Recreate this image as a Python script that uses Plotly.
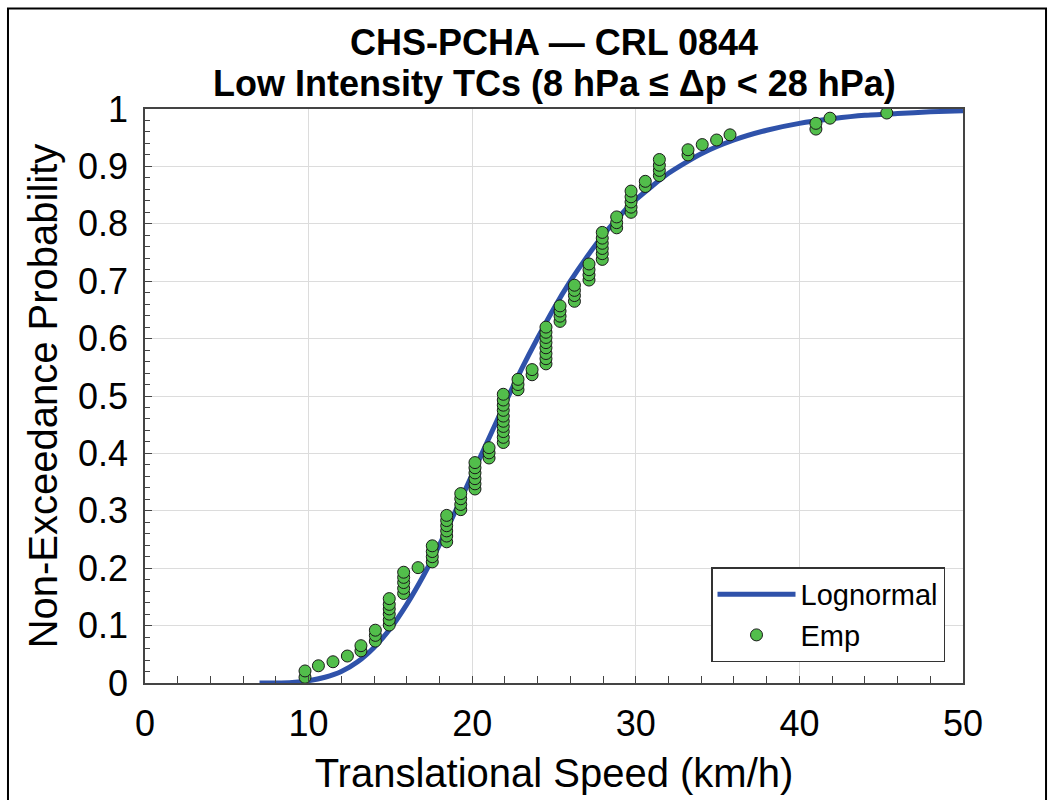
import plotly.graph_objects as go

# Empirical points: column speeds (km/h) and probabilities read per column
emp_speed_cols = [9.78, 10.60, 11.49, 12.37, 13.20, 14.08, 14.93, 15.81, 16.69, 17.56,
                  18.44, 19.30, 20.17, 21.03, 21.90, 22.80, 23.66, 24.51, 25.37, 26.25,
                  27.14, 27.95, 28.83, 29.71, 30.58, 31.44, 33.19, 34.06, 34.94, 35.76,
                  41.01, 41.87, 45.34]
emp_prob_cols = [
    [0.010, 0.021],
    [0.030],
    [0.037],
    [0.047],
    [0.056, 0.065],
    [0.073, 0.083, 0.092],
    [0.101, 0.110, 0.120, 0.129, 0.137, 0.147],
    [0.156, 0.165, 0.175, 0.184, 0.193],
    [0.201],
    [0.211, 0.220, 0.229, 0.239],
    [0.246, 0.256, 0.265, 0.274, 0.283, 0.292],
    [0.302, 0.311, 0.321, 0.330],
    [0.338, 0.347, 0.356, 0.366, 0.375, 0.384],
    [0.392, 0.401, 0.410],
    [0.419, 0.428, 0.438, 0.447, 0.456, 0.465, 0.475, 0.484, 0.493, 0.503],
    [0.511, 0.520, 0.529],
    [0.537, 0.546],
    [0.556, 0.565, 0.574, 0.584, 0.593, 0.602, 0.611, 0.620],
    [0.630, 0.639, 0.648, 0.657],
    [0.665, 0.675, 0.684, 0.693],
    [0.702, 0.711, 0.720, 0.730],
    [0.738, 0.748, 0.757, 0.766, 0.775, 0.785],
    [0.793, 0.802, 0.812],
    [0.820, 0.829, 0.838, 0.847, 0.857],
    [0.865, 0.874],
    [0.884, 0.893, 0.902, 0.912],
    [0.920, 0.929],
    [0.938],
    [0.946],
    [0.955],
    [0.965, 0.975],
    [0.984],
    [0.993],
]

# Lognormal fitted curve
logn_speed = [7, 8, 9, 10, 11, 12, 13, 14, 15, 16, 17, 18, 19, 20, 21, 22, 23, 24, 25,
              26, 27, 28, 29, 30, 32, 34, 36, 38, 40, 42, 44, 46, 48, 50]
logn_prob = [0.000, 0.000, 0.001, 0.004, 0.010, 0.020, 0.037, 0.062, 0.095, 0.137,
             0.186, 0.241, 0.301, 0.363, 0.425, 0.487, 0.546, 0.601, 0.653, 0.700,
             0.742, 0.780, 0.813, 0.842, 0.888, 0.922, 0.946, 0.963, 0.975, 0.983,
             0.989, 0.992, 0.995, 0.997]

x_ticks = [0, 10, 20, 30, 40, 50]
y_ticks = [0, 0.1, 0.2, 0.3, 0.4, 0.5, 0.6, 0.7, 0.8, 0.9, 1]
y_tick_labels = ["0", "0.1", "0.2", "0.3", "0.4", "0.5", "0.6", "0.7", "0.8", "0.9", "1"]

title_line1 = "CHS-PCHA — CRL 0844"
title_line2 = "Low Intensity TCs (8 hPa ≤ Δp &lt; 28 hPa)"

emp_x, emp_y = [], []
for s, col in zip(emp_speed_cols, emp_prob_cols):
    for p in col:
        emp_x.append(s)
        emp_y.append(p)

FONT = "Liberation Sans, Arial, sans-serif"

fig = go.Figure()
fig.add_trace(go.Scatter(
    x=logn_speed, y=logn_prob, mode="lines", name="Lognormal",
    line=dict(color="#2F52AA", width=5, shape="spline", smoothing=0.6),
))
fig.add_trace(go.Scatter(
    x=emp_x, y=emp_y, mode="markers", name="Emp",
    marker=dict(color="#52BE4B", size=12, line=dict(color="#1a1a1a", width=1)),
))

axis_common = dict(
    showline=True, linecolor="#444444", linewidth=1.5, mirror=True,
    showgrid=True, gridcolor="#DCDCDC", gridwidth=1,
    ticks="inside", ticklen=7, tickcolor="#444444", tickwidth=1,
    tickfont=dict(family=FONT, size=36, color="black"),
    zeroline=False,
)

fig.update_layout(
    width=1052, height=800,
    paper_bgcolor="white", plot_bgcolor="white",
    margin=dict(l=145, r=89, t=109, b=114),
    xaxis=dict(
        range=[0, 50], tickvals=x_ticks, ticklabelstandoff=8,
        minor=dict(dtick=2, ticks="inside", ticklen=7, tickcolor="#444444", showgrid=False),
        title=dict(text="Translational Speed (km/h)", standoff=16,
                   font=dict(family=FONT, size=40, color="black")),
        **axis_common,
    ),
    yaxis=dict(
        range=[0, 1], tickvals=y_ticks, ticktext=y_tick_labels, ticklabelstandoff=8,
        minor=dict(dtick=0.02, ticks="inside", ticklen=5, tickcolor="#444444", showgrid=False),
        title=dict(text="Non-Exceedance Probability", standoff=8,
                   font=dict(family=FONT, size=40, color="black")),
        **axis_common,
    ),
    legend=dict(
        x=0.978, y=0.036, xanchor="right", yanchor="bottom",
        bgcolor="white", bordercolor="#333333", borderwidth=1.5,
        font=dict(family=FONT, size=29, color="black"),
        itemwidth=78, tracegroupgap=0,
    ),
    showlegend=True,
    annotations=[
        dict(text="<b>" + title_line1 + "</b>", xref="paper", yref="paper",
             x=0.5, y=1.116, xanchor="center", yanchor="middle", showarrow=False,
             font=dict(family=FONT, size=36, color="black")),
        dict(text="<b>" + title_line2 + "</b>", xref="paper", yref="paper",
             x=0.5, y=1.045, xanchor="center", yanchor="middle", showarrow=False,
             font=dict(family=FONT, size=36, color="black")),
    ],
)

# outer figure frame
fig.add_shape(type="rect", xref="paper", yref="paper",
              x0=-0.1675, x1=1.1015, y0=-0.3, y1=1.175,
              line=dict(color="black", width=2), fillcolor="rgba(0,0,0,0)", layer="above")

fig.write_html("out.html")
